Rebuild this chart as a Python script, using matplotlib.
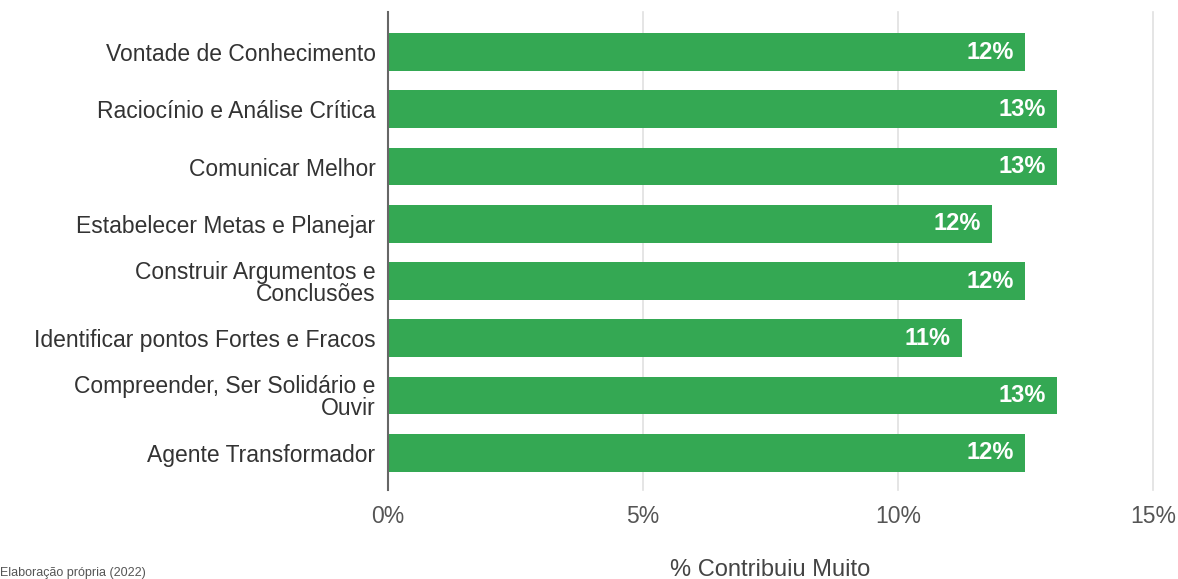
import matplotlib
matplotlib.use("Agg")
import matplotlib.pyplot as plt

categories = [
    "Vontade de Conhecimento",
    "Raciocínio e Análise Crítica",
    "Comunicar Melhor",
    "Estabelecer Metas e Planejar",
    "Construir Argumentos e\nConclusões",
    "Identificar pontos Fortes e Fracos",
    "Compreender, Ser Solidário e\nOuvir",
    "Agente Transformador",
]
values = [12.49, 13.12, 13.12, 11.84, 12.49, 11.25, 13.12, 12.49]
value_labels = ["12%", "13%", "13%", "12%", "12%", "11%", "13%", "12%"]
xticks = [0, 5, 10, 15]
xtick_labels = ["0%", "5%", "10%", "15%"]

plt.rcParams['font.family'] = ['Liberation Sans', 'DejaVu Sans']

fig = plt.figure(figsize=(11.78, 5.79), dpi=100)
ax = fig.add_axes([388/1178, 1 - 490/579, (1153-388)/1178, (490-12)/579])

green = "#34A853"
ypos = list(range(len(categories)))
ax.barh(ypos, values, height=0.66, color=green, zorder=3)
for y, v, lab in zip(ypos, values, value_labels):
    ax.text(v - 0.22, y, lab, ha="right", va="center", color="white",
            fontsize=17, fontweight="bold", zorder=4)

ax.set_xlim(0, 15.0)
ax.set_ylim(7.65, -0.7)
ax.set_yticks(ypos)
ax.set_yticklabels(categories, fontsize=16.5, color="#333333", linespacing=0.95)
ax.set_xticks(xticks)
ax.set_xticklabels(xtick_labels, fontsize=16.5, color="#555555")
ax.tick_params(axis="both", length=0)
ax.tick_params(axis="y", pad=9)
ax.tick_params(axis="x", pad=11)
ax.grid(axis="x", color="#e0e0e0", linewidth=1.2, zorder=0)
for gl in ax.get_xgridlines():
    gl.set_clip_on(False)
for s in ["top", "right", "bottom"]:
    ax.spines[s].set_visible(False)
ax.spines["left"].set_color("#666666")
ax.spines["left"].set_linewidth(1.5)
ax.spines["left"].set_zorder(5)

fig.text(770/1178, 1 - 570/579, "% Contribuiu Muito", ha="center", va="center",
         fontsize=17, color="#444444")
fig.text(0.0, 0.0, "Elaboração própria (2022)", ha="left", va="bottom",
         fontsize=9, color="#555555")

fig.savefig("out.png", dpi=100)
